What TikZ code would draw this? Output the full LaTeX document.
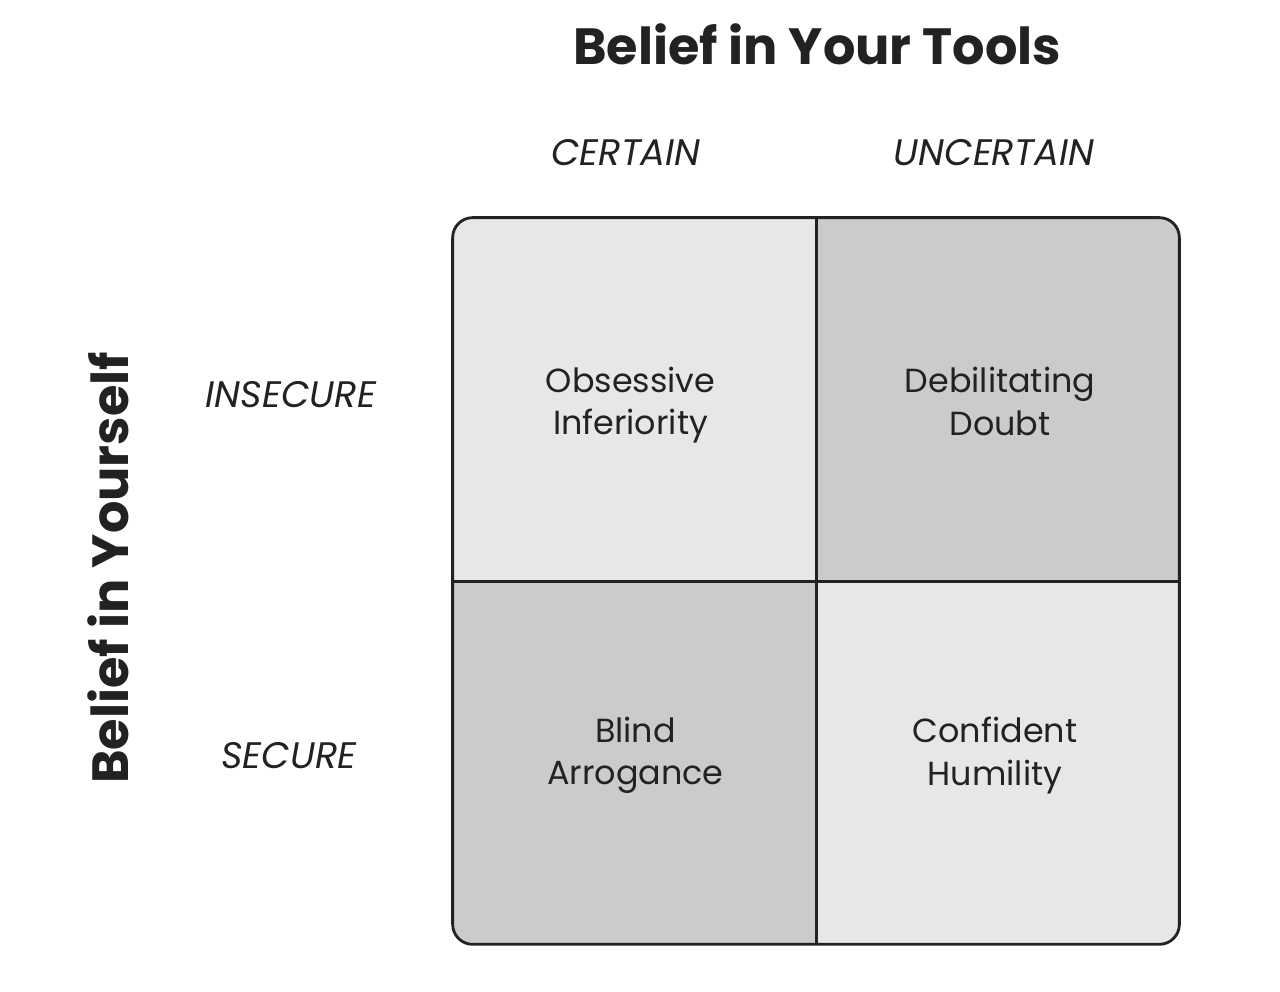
\documentclass[tikz,border=0pt]{standalone}
\usepackage{fontspec}
\setmainfont{Poppins}
\usetikzlibrary{positioning}

\definecolor{lightcell}{HTML}{E7E7E7}
\definecolor{darkcell}{HTML}{CBCBCB}
\definecolor{ink}{HTML}{222222}

\tikzset{
	cell/.style={minimum width=7.26cm, minimum height=7.26cm, inner sep=0pt},
	celltext/.style={align=center, text=ink, font=\fontsize{19}{24}\selectfont},
	axislabel/.style={text=ink, font=\fontsize{21}{25}\selectfont\itshape},
	heading/.style={text=ink, font=\fontsize{29}{34}\selectfont\bfseries}
}

\begin{document}
\begin{tikzpicture}
			\useasboundingbox (0, 0) rectangle (25.6, 19.84);

			\begin{scope}
				\clip[rounded corners=0.4cm] (9.06, 0.92) rectangle (23.58, 15.48);
				\node[cell, fill=lightcell] (tl) at (12.69, 11.85) {};
				\node[cell, fill=darkcell] (tr) at (19.95, 11.85) {};
				\node[cell, fill=darkcell] (bl) at (12.69, 4.59) {};
				\node[cell, fill=lightcell] (br) at (19.95, 4.59) {};
			\end{scope}

			\draw[ink, line width=1.6pt] (tl.north east) -- (br.south west -| tl.north east);
			\draw[ink, line width=1.6pt] (tl.south west) -- (tl.south west -| br.east);
			\draw[ink, line width=1.6pt, rounded corners=0.4cm] (bl.south west) rectangle (tr.north east);

			\node[celltext] (obsessive) at ([xshift=-0.08cm, yshift=-0.12cm]tl.center) {Obsessive\\Inferiority};
			\node[celltext] (debilitating) at ([xshift=0.05cm, yshift=-0.04cm]tr.center) {Debilitating\\Doubt};
			\node[celltext] (blind) at ([xshift=0.02cm, yshift=0.14cm]bl.center) {Blind\\Arrogance};
			\node[celltext] (confident) at ([xshift=-0.05cm, yshift=0.14cm]br.center) {Confident\\Humility};

			\node[axislabel] (certain) at (12.52, 16.78) {CERTAIN};
			\node[axislabel] (uncertain) at (19.88, 16.78) {UNCERTAIN};
			\node[axislabel] (insecure) at (5.82, 11.94) {INSECURE};
			\node[axislabel] (secure) at (5.78, 4.72) {SECURE};

			\node[heading] (tools) at (16.34, 18.96) {Belief in Your Tools};
			\node[heading, rotate=90] (yourself) at (2.16, 8.48) {Belief in Yourself};

		\end{tikzpicture}
\end{document}
